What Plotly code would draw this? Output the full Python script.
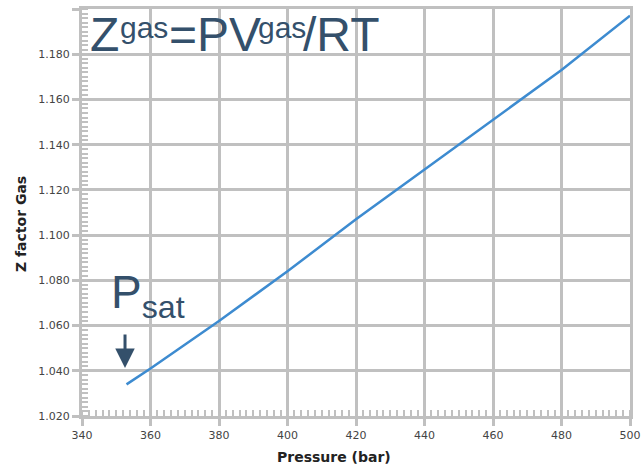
import plotly.graph_objects as go

pressure = [353, 360, 380, 400, 420, 440, 460, 480, 500]
z_gas = [1.034, 1.041, 1.062, 1.084, 1.107, 1.129, 1.151, 1.173, 1.197]

x_ticks = [340, 360, 380, 400, 420, 440, 460, 480, 500]
y_ticks = [1.02, 1.04, 1.06, 1.08, 1.10, 1.12, 1.14, 1.16, 1.18, 1.20]
y_labels = ["1.020", "1.040", "1.060", "1.080", "1.100", "1.120", "1.140", "1.160", "1.180", ""]

GRID = "#c0c0c0"
INK = "#34506b"

fig = go.Figure()
fig.add_trace(go.Scatter(x=pressure, y=z_gas, mode="lines",
                         line=dict(color="#3d8bd0", width=2.5), showlegend=False))

axis_common = dict(
    showgrid=True, gridcolor=GRID, gridwidth=3,
    showline=True, linecolor=GRID, linewidth=3, mirror=True,
    ticks="outside", ticklen=7, tickwidth=3, tickcolor=GRID,
    tickfont=dict(family="DejaVu Sans", size=11, color="#444"),
    zeroline=False, automargin=False,
)

fig.update_xaxes(range=[340, 500], tickvals=x_ticks, ticktext=[str(v) for v in x_ticks],
                 minor=dict(dtick=2, ticks="inside", ticklen=6, tickwidth=2,
                            tickcolor=GRID, showgrid=False),
                 **axis_common)
fig.update_yaxes(range=[1.02, 1.20], tickvals=y_ticks, ticktext=y_labels,
                 minor=dict(dtick=0.002, ticks="inside", ticklen=6, tickwidth=2,
                            tickcolor=GRID, showgrid=False),
                 **axis_common)

big = dict(family="Liberation Sans", size=48, color=INK)
small = dict(family="Liberation Sans", size=30, color=INK)

def title_piece(text, x, y, font):
    return dict(text=text, x=x, y=y, xref="paper", yref="paper",
                xanchor="left", yanchor="middle", showarrow=False,
                borderpad=0, font=font)

annotations = [
    dict(text="Pressure (bar)", x=0.46, y=-0.1007, xref="paper", yref="paper",
         xanchor="center", yanchor="middle", showarrow=False,
         font=dict(family="DejaVu Sans", size=14, color="#222", weight="bold")),
    dict(text="Z factor Gas", x=-0.1113, y=0.4717, xref="paper", yref="paper",
         xanchor="center", yanchor="middle", showarrow=False, textangle=-90,
         font=dict(family="DejaVu Sans", size=14, color="#222", weight="bold")),
    title_piece("Z", 0.01277, 0.93759, big),
    title_piece("gas", 0.06752, 0.95430, small),
    title_piece("=PV", 0.15693, 0.93759, big),
    title_piece("gas", 0.31934, 0.95430, small),
    title_piece("/RT", 0.40146, 0.93759, big),
    dict(text="P<sub>sat</sub>", x=0.051, y=0.371, xref="paper", yref="paper",
         xanchor="left", yanchor="top", showarrow=False, borderpad=0,
         font=dict(family="Liberation Sans", size=46, color=INK)),
    dict(text="", x=0.0785, y=0.118, xref="paper", yref="paper",
         showarrow=True, ax=0, ay=-35, arrowhead=2, arrowsize=1.3,
         arrowwidth=3, arrowcolor=INK, standoff=0),
]

fig.update_layout(
    width=641, height=465,
    margin=dict(l=82, r=11, t=9, b=49),
    plot_bgcolor="white", paper_bgcolor="white",
    annotations=annotations,
)

fig.write_html("out.html")
